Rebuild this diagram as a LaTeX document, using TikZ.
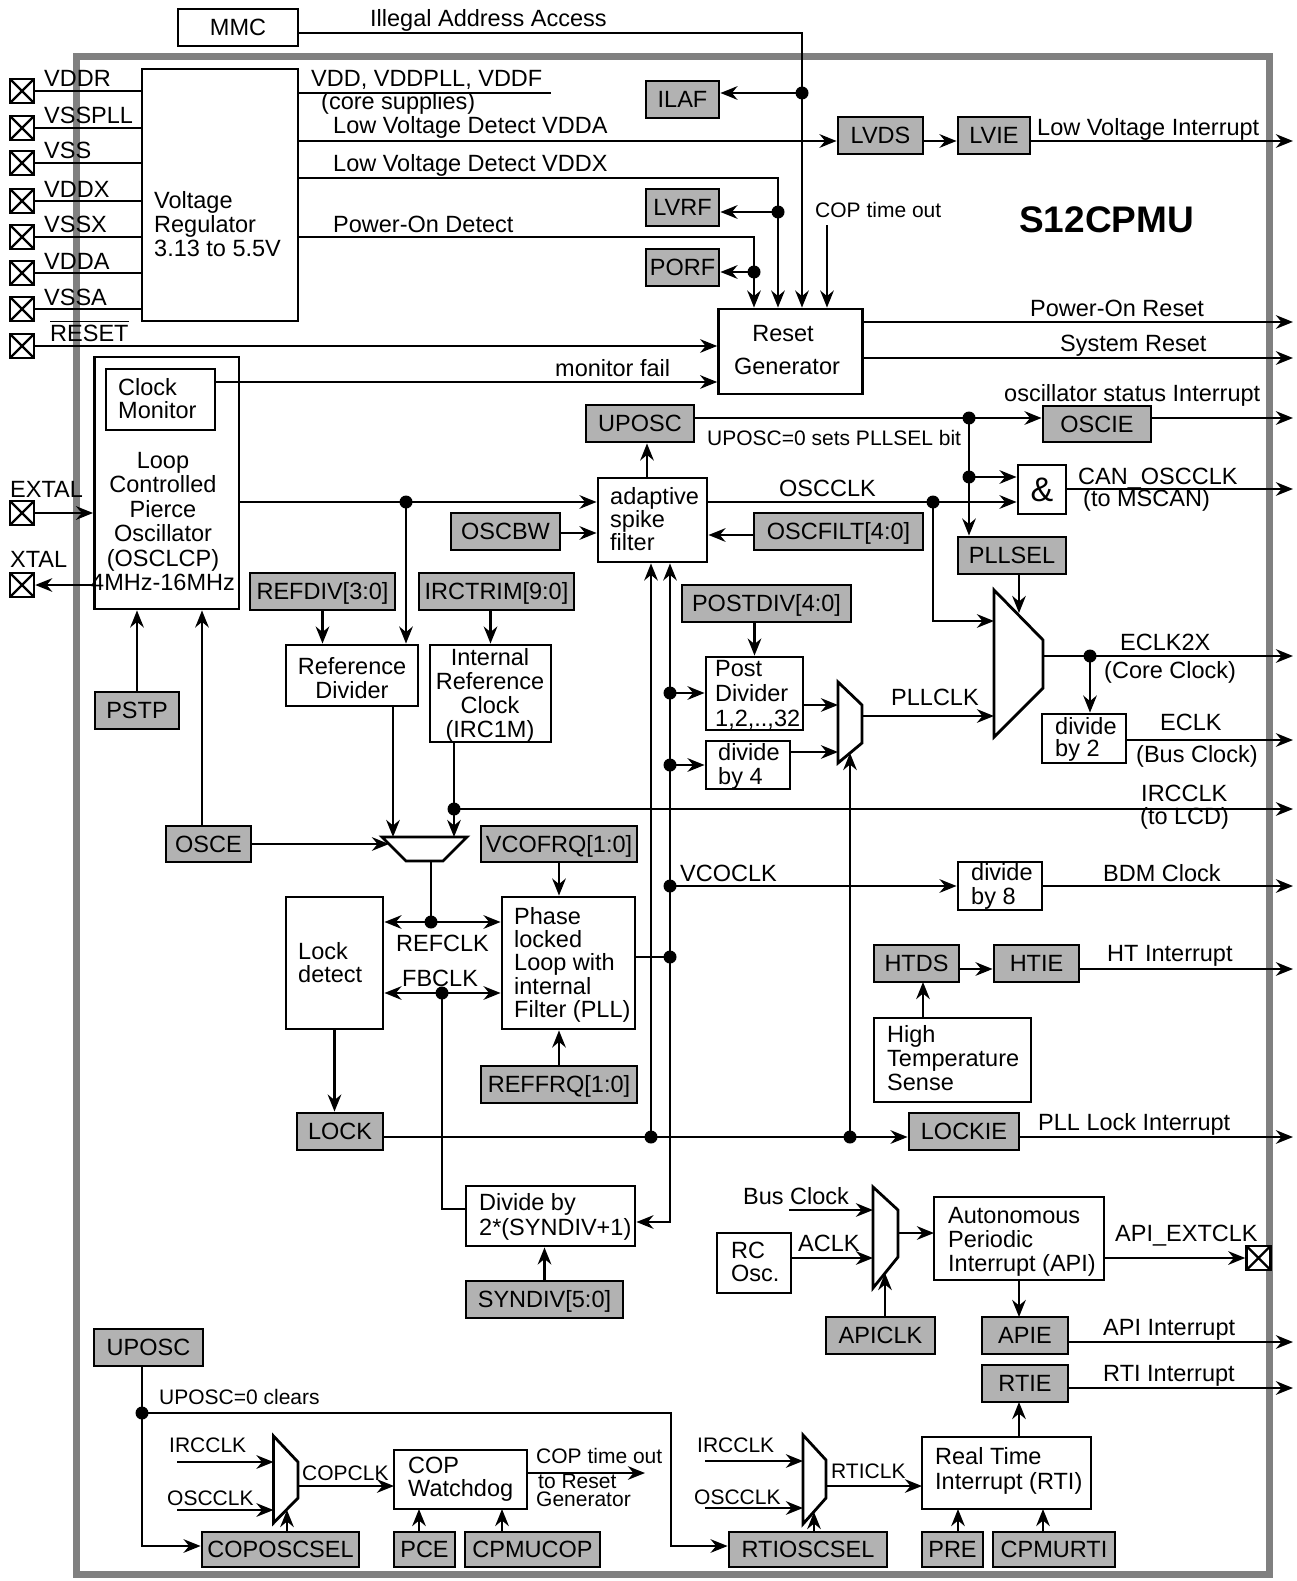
\documentclass[tikz,border=0pt]{standalone}
\usepackage{fontspec}
\setmainfont{Liberation Sans}
\usetikzlibrary{arrows.meta,fit}
\definecolor{gbg}{RGB}{178,178,178}
\definecolor{frm}{RGB}{128,128,128}
\newcommand\nf{\fontsize{23.5}{24}\selectfont}
\newcommand\smf{\fontsize{21}{20}\selectfont}
\newcommand\gbx[6]{\node[gbox,fit={(#2,#3) (#4,#5)}] (#1) {};
  \node[inner sep=0pt,anchor=base,font=\nf] at ([yshift=-8.3pt]#1.center) {#6};}
\begin{document}
\begin{tikzpicture}[x=1pt,y=-1pt,
  >={Stealth[length=17pt,width=13.5pt,inset=5.5pt]},
  ln/.style={line width=2.8pt},
  arr/.style={ln,->},
  darr/.style={ln,<->},
  wbox/.style={draw,line width=2.8pt,fill=white,inner sep=0pt},
  gbox/.style={draw,line width=2.8pt,fill=gbg,inner sep=0pt},
  lab/.style={inner sep=0pt,anchor=base west,font=\nf},
  slab/.style={inner sep=0pt,anchor=base west,font=\smf},
  mtl/.style={inner sep=0pt,anchor=north west,align=left,font=\nf},
  mtc/.style={inner sep=0pt,anchor=north,align=center,font=\nf},
  pin/.style={draw,line width=2.4pt,fill=white,minimum size=24pt,inner sep=0pt,
    path picture={\draw[line width=2.4pt] (path picture bounding box.north west) -- (path picture bounding box.south east)
      (path picture bounding box.north east) -- (path picture bounding box.south west);}}]
\useasboundingbox (0,0) rectangle (1297,1581);
\fill[white] (0,0) rectangle (1297,1581);
% frame
\draw[frm,line width=7pt] (76.5,57) rectangle (1269.5,1574);
\coordinate (R) at (1293,0);

% ---------- white boxes ----------
\node[wbox,fit={(178,9) (298,46)}] (MMC) {};
\node[inner sep=0pt,anchor=base,font=\nf] at ([yshift=-8.3pt]MMC.center) {MMC};
\node[wbox,fit={(142,69) (298,321)}] (REG) {};
\node[wbox,fit={(718.6,309) (862.6,394)}] (RG) {};
\node[wbox,fit={(94.5,357) (239,609)}] (OSC) {};
\node[wbox,fit={(106,369) (215,430)}] (CM) {};
\node[wbox,fit={(598,478) (707,562)}] (ASF) {};
\node[wbox,fit={(1018,465) (1066,514)}] (AND) {};
\node[inner sep=0pt,anchor=base,font=\fontsize{34}{34}\selectfont] at ([yshift=-12pt]AND.center) {\&};
\node[wbox,fit={(286,645) (418,706)}] (RD) {};
\node[wbox,fit={(430,645) (551,742)}] (IRC) {};
\node[wbox,fit={(706,657) (803,730)}] (PD) {};
\node[wbox,fit={(706,741) (790,789)}] (D4) {};
\node[wbox,fit={(1042,714) (1126,763)}] (D2) {};
\node[wbox,fit={(958,862) (1042,910)}] (D8) {};
\node[wbox,fit={(286,897) (383,1029)}] (LD) {};
\node[wbox,fit={(502,897) (635,1029)}] (PLL) {};
\node[wbox,fit={(874,1018) (1031,1102)}] (HTS) {};
\node[wbox,fit={(466,1186) (635,1246)}] (DIV) {};
\node[wbox,fit={(717,1233) (791,1293)}] (RC) {};
\node[wbox,fit={(934,1197) (1104,1280)}] (API) {};
\node[wbox,fit={(394,1450) (527,1509)}] (COP) {};
\node[wbox,fit={(922,1437) (1091,1509)}] (RTI) {};

% ---------- gray boxes ----------
\gbx{ILAF}{646}{81}{719}{118}{ILAF}
\gbx{LVDS}{838}{117}{923}{154}{LVDS}
\gbx{LVIE}{958}{117}{1030}{154}{LVIE}
\gbx{LVRF}{646}{189}{719}{226}{LVRF}
\gbx{PORF}{646}{249}{719}{286}{PORF}
\gbx{UPOSCa}{586}{405}{694}{442}{UPOSC}
\gbx{OSCIE}{1043}{406}{1151}{442}{OSCIE}
\gbx{OSCBW}{451}{513}{560}{550}{OSCBW}
\gbx{OSCFILT}{754}{513}{923}{550}{OSCFILT[4:0]}
\gbx{PLLSEL}{958}{537}{1066}{574}{PLLSEL}
\gbx{REFDIV}{250}{573}{395}{610}{REFDIV[3:0]}
\gbx{IRCTRIM}{419}{573}{574}{610}{IRCTRIM[9:0]}
\gbx{POSTDIV}{682}{585}{851}{622}{POSTDIV[4:0]}
\gbx{PSTP}{95}{692}{179}{729}{PSTP}
\gbx{OSCE}{166}{826}{251}{862}{OSCE}
\gbx{VCOFRQ}{481}{826}{637}{862}{VCOFRQ[1:0]}
\gbx{HTDS}{874}{945}{959}{982}{HTDS}
\gbx{HTIE}{994}{945}{1079}{982}{HTIE}
\gbx{REFFRQ}{481}{1066}{637}{1103}{REFFRQ[1:0]}
\gbx{LOCK}{297}{1113}{383}{1150}{LOCK}
\gbx{LOCKIE}{909}{1113}{1019}{1150}{LOCKIE}
\gbx{SYNDIV}{466}{1281}{623}{1318}{SYNDIV[5:0]}
\gbx{APICLK}{826}{1317}{935}{1354}{APICLK}
\gbx{APIE}{982}{1317}{1068}{1354}{APIE}
\gbx{UPOSCb}{94}{1329}{203}{1366}{UPOSC}
\gbx{RTIE}{982}{1365}{1068}{1402}{RTIE}
\gbx{COPOSCSEL}{202}{1532}{359}{1567}{COPOSCSEL}
\gbx{PCE}{394}{1532}{455}{1567}{PCE}
\gbx{CPMUCOP}{465}{1532}{600}{1567}{CPMUCOP}
\gbx{RTIOSCSEL}{729}{1532}{887}{1567}{RTIOSCSEL}
\gbx{PRE}{922}{1532}{983}{1567}{PRE}
\gbx{CPMURTI}{993}{1532}{1115}{1567}{CPMURTI}

% ---------- multiplexers ----------
\draw[ln,fill=white] (994,590) -- (1043,640) -- (1043,688) -- (994,737) -- cycle;
\draw[ln,fill=white] (838,682) -- (862,705) -- (862,743) -- (838,763) -- cycle;
\draw[ln,fill=white] (382,837) -- (467,837) -- (443,861) -- (406,861) -- cycle;
\draw[ln,fill=white] (873,1187) -- (898,1210) -- (898,1257) -- (873,1288) -- cycle;
\draw[ln,fill=white] (273.5,1436) -- (298,1462) -- (298,1498) -- (273.5,1523) -- cycle;
\draw[ln,fill=white] (803,1435) -- (826,1460) -- (826,1498) -- (803,1524) -- cycle;

% ---------- pins ----------
\foreach \nm/\yy in {VDDR/91,VSSPLL/128,VSS/163,VDDX/201,VSSX/237,VDDA/273,VSSA/309}{
  \node[pin] (p\nm) at (22,\yy) {};
  \draw[ln] (p\nm.east) -- (p\nm.east -| REG.west);
  \node[lab] at (44,\yy-4) {\nm};
}
\node[pin] (pRESET) at (22,346) {};
\draw[arr] (pRESET.east) -- (pRESET.east -| RG.west);
\node[lab] (rstlab) at (50,341) {RESET};
\draw[line width=1.3pt] ([yshift=3pt]rstlab.north west) -- ([yshift=3pt]rstlab.north east);
\node[pin] (pEXTAL) at (22,513) {};
\node[pin] (pXTAL) at (22,585) {};
\node[lab] at (10,497) {EXTAL};
\node[lab] at (10,567) {XTAL};
\draw[arr] (pEXTAL.east) -- (pEXTAL.east -| OSC.west);
\draw[arr] (pXTAL.east -| OSC.west) -- (pXTAL.east);
\node[pin] (pAPI) at (1258.5,1258) {};

% ---------- texts in boxes ----------
\node[mtl] at (154,191) {Voltage\\Regulator\\3.13 to 5.5V};
\node[inner sep=0pt,anchor=base,font=\nf] at (783,341) {Reset};
\node[inner sep=0pt,anchor=base,font=\nf] at (787,374) {Generator};
\node[mtl,font=\fontsize{23.5}{23.5}\selectfont] at (118,378) {Clock\\Monitor};
\node[mtc,font=\fontsize{23.5}{24.5}\selectfont] at (163,452) {Loop\\Controlled\\Pierce\\Oscillator\\(OSCLCP)\\4MHz-16MHz};
\node[mtl,font=\fontsize{23.5}{23}\selectfont] at (610,487) {adaptive\\spike\\filter};
\node[mtc] at (352,657) {Reference\\Divider};
\node[mtc] at (490,648) {Internal\\Reference\\Clock\\(IRC1M)};
\node[mtl,font=\fontsize{23.5}{25}\selectfont] at (715,660) {Post\\Divider\\1,2,..,32};
\node[mtl] at (718,743) {divide\\by 4};
\node[mtl,font=\fontsize{23.5}{22}\selectfont] at (1055,717) {divide\\by 2};
\node[mtl] at (971,863) {divide\\by 8};
\node[mtl,font=\fontsize{23.5}{23}\selectfont] at (298,942) {Lock\\detect};
\node[mtl,font=\fontsize{23.5}{23.3}\selectfont] at (514,907) {Phase\\locked\\Loop with\\internal\\Filter (PLL)};
\node[mtl] at (887,1025) {High\\Temperature\\Sense};
\node[mtl,font=\fontsize{23.5}{25}\selectfont] at (479,1193) {Divide by\\2*(SYNDIV+1)};
\node[mtl,font=\fontsize{23.5}{23}\selectfont] at (731,1242) {RC\\Osc.};
\node[mtl] at (948,1207) {Autonomous\\Periodic\\Interrupt (API)};
\node[mtl,font=\fontsize{23.5}{23}\selectfont] at (408,1457) {COP\\Watchdog};
\node[mtl,font=\fontsize{23.5}{25}\selectfont] at (935,1447) {Real Time\\Interrupt (RTI)};

% ---------- title ----------
\node[inner sep=0pt,anchor=base west,font=\fontsize{37}{37}\selectfont\bfseries] at (1019,232) {S12CPMU};

% ---------- top connections ----------
\coordinate (cIA) at (802,33);
\draw[arr] (MMC.east |- cIA) -- (cIA) -- (cIA |- RG.north);
\node[lab] at (370,27) {Illegal Address Access};
\coordinate (dIL) at (802,93);
\fill (dIL) circle (6.5);
\draw[arr] (dIL) -- (dIL -| ILAF.east);

\coordinate (cVD) at (551,93);
\draw[ln] (REG.east |- cVD) -- (cVD);
\node[lab] at (311,87) {VDD, VDDPLL, VDDF};
\node[lab] at (321,110) {(core supplies)};

\coordinate (cLA) at (298,141);
\draw[arr] (cLA) -- (cLA -| LVDS.west);
\node[lab] at (333,134) {Low Voltage Detect VDDA};
\draw[arr] (LVDS.east |- cLA) -- (cLA -| LVIE.west);
\draw[arr] (LVIE.east |- cLA) -- (cLA -| R);
\node[lab] at (1037,136) {Low Voltage Interrupt};

\coordinate (cLX) at (778,178);
\draw[arr] (REG.east |- cLX) -- (cLX) -- (cLX |- RG.north);
\node[lab] at (333,172) {Low Voltage Detect VDDX};
\coordinate (dLX) at (778,212);
\fill (dLX) circle (6.5);
\draw[arr] (dLX) -- (dLX -| LVRF.east);

\coordinate (cPO) at (754,237);
\draw[arr] (REG.east |- cPO) -- (cPO) -- (cPO |- RG.north);
\node[lab] at (333,232) {Power-On Detect};
\coordinate (dPO) at (754,272);
\fill (dPO) circle (6.5);
\draw[arr] (dPO) -- (dPO -| PORF.east);

\coordinate (cCT) at (827,225);
\draw[arr] (cCT) -- (cCT |- RG.north);
\node[slab] at (815,217) {COP time out};

\coordinate (cMF) at (215,382);
\draw[arr] (cMF) -- (cMF -| RG.west);
\node[lab] at (555,376) {monitor fail};

\coordinate (cPR) at (862.6,322);
\draw[arr] (cPR) -- (cPR -| R);
\node[lab] at (1030,316) {Power-On Reset};
\coordinate (cSR) at (862.6,358);
\draw[arr] (cSR) -- (cSR -| R);
\node[lab] at (1060,351) {System Reset};

% ---------- oscillator region ----------
\coordinate (cOO) at (239,502);
\draw[arr] (cOO) -- (cOO -| ASF.west);
\coordinate (dRD) at (406,502);
\fill (dRD) circle (6.5);
\draw[arr] (dRD) -- (dRD |- RD.north);
\coordinate (cBW) at (560,533);
\draw[arr] (cBW) -- (cBW -| ASF.west);
\coordinate (cFI) at (754,535);
\draw[arr] (cFI) -- (cFI -| ASF.east);
\coordinate (cAU) at (647,478);
\draw[arr] (cAU) -- (cAU |- UPOSCa.south);

\coordinate (cUL) at (694,418);
\draw[arr] (cUL) -- (cUL -| OSCIE.west);
\node[slab] at (707,445) {UPOSC=0 sets PLLSEL bit};
\draw[arr] (OSCIE.east |- cUL) -- (cUL -| R);
\node[lab] at (1004,401) {oscillator status Interrupt};
\coordinate (dU1) at (969,418);
\fill (dU1) circle (6.5);
\draw[arr] (dU1) -- (dU1 |- PLLSEL.north);
\coordinate (dU2) at (969,477);
\fill (dU2) circle (6.5);
\draw[arr] (dU2) -- (dU2 -| AND.west);

\coordinate (cOC) at (707,502);
\draw[arr] (cOC) -- (cOC -| AND.west);
\node[lab] at (779,496) {OSCCLK};
\coordinate (dOC) at (933,502);
\fill (dOC) circle (6.5);
\coordinate (mBL) at (994,621);
\draw[arr] (dOC) -- (dOC |- mBL) -- (mBL);
\coordinate (cAO) at (1066,489);
\draw[arr] (cAO) -- (cAO -| R);
\node[lab] at (1078,484) {CAN\_OSCCLK};
\node[lab] at (1083,506) {(to MSCAN)};
\coordinate (cPS) at (1019,574);
\draw[arr] (cPS) -- (1019,613);

\coordinate (cMO) at (1043,656);
\draw[arr] (cMO) -- (cMO -| R);
\node[lab] at (1120,650) {ECLK2X};
\node[lab] at (1104,678) {(Core Clock)};
\coordinate (dEC) at (1090,656);
\fill (dEC) circle (6.5);
\draw[arr] (dEC) -- (dEC |- D2.north);
\coordinate (cEK) at (1126,740);
\draw[arr] (cEK) -- (cEK -| R);
\node[lab] at (1160,730) {ECLK};
\node[lab] at (1136,762) {(Bus Clock)};

\draw[arr] (POSTDIV.south -| PD.north) -- (PD.north);

% VCO bus lines
\coordinate (dL1) at (651,1137);
\draw[arr] (dL1) -- (dL1 |- ASF.south);
\coordinate (cV) at (670,1222);
\draw[darr] (cV |- ASF.south) -- (cV) -- (cV -| DIV.east);
\coordinate (dP1) at (670,693);
\coordinate (dP2) at (670,765);
\coordinate (dVC) at (670,886);
\coordinate (dPL) at (670,957);
\foreach \c in {dP1,dP2,dVC,dPL} \fill (\c) circle (6.5);
\draw[arr] (dP1) -- (dP1 -| PD.west);
\draw[arr] (dP2) -- (dP2 -| D4.west);
\draw[arr] (803,705) -- (838,705);
\draw[arr] (790,752) -- (838,752);
\coordinate (cSM) at (862,716);
\draw[arr] (cSM) -- (cSM -| mBL);
\node[lab] at (891,705) {PLLCLK};
\coordinate (dL2) at (850,1137);
\draw[arr] (dL2) -- (850,753);

\draw[arr] (dVC) -- (dVC -| D8.west);
\node[lab] at (680,881) {VCOCLK};
\draw[arr] (D8.east |- dVC) -- (dVC -| R);
\node[lab] at (1103,881) {BDM Clock};

% reference selection
\coordinate (cIR) at (454,742);
\draw[arr] (cIR) -- (454,837);
\coordinate (dIR) at (454,809);
\fill (dIR) circle (6.5);
\draw[arr] (dIR) -- (dIR -| R);
\node[lab] at (1141,801) {IRCCLK};
\node[lab] at (1140,824) {(to LCD)};
\draw[arr] (RD.south -| 393,0) -- (393,837);
\draw[arr] (REFDIV.south) -- (REFDIV.south |- RD.north);
\draw[arr] (IRCTRIM.south -| IRC.north) -- (IRC.north);
\draw[arr] (PSTP.north) -- (PSTP.north |- OSC.south);
\coordinate (cOE) at (202,826);
\draw[arr] (cOE) -- (cOE |- OSC.south);
\draw[arr] (OSCE.east) -- (389,844);

\coordinate (cRC) at (431,922);
\draw[ln] (431,861) -- (cRC);
\draw[darr] (cRC -| LD.east) -- (cRC -| PLL.west);
\fill (cRC) circle (6.5);
\node[lab] at (396,951) {REFCLK};
\coordinate (cFB) at (442,993);
\draw[darr] (cFB -| LD.east) -- (cFB -| PLL.west);
\fill (cFB) circle (6.5);
\node[lab] at (402,986) {FBCLK};
\coordinate (cFB2) at (442,1209);
\draw[ln] (cFB) -- (cFB2) -- (cFB2 -| DIV.west);

\draw[arr] (VCOFRQ.south) -- (VCOFRQ.south |- PLL.north);
\draw[arr] (REFFRQ.north) -- (REFFRQ.north |- PLL.south);
\draw[ln] (PLL.east |- dPL) -- (dPL);
\draw[arr] (LD.south) -- (LD.south |- LOCK.north);

\draw[arr] (LOCK.east |- dL1) -- (dL1 -| LOCKIE.west);
\fill (dL1) circle (6.5);
\fill (dL2) circle (6.5);
\draw[arr] (LOCKIE.east |- dL1) -- (dL1 -| R);
\node[lab] at (1038,1130) {PLL Lock Interrupt};

\coordinate (cHT) at (959,969);
\draw[arr] (cHT) -- (cHT -| HTIE.west);
\draw[arr] (HTIE.east |- cHT) -- (cHT -| R);
\node[lab] at (1107,961) {HT Interrupt};
\draw[arr] (HTS.north -| 923,0) -- (923,982);

\draw[arr] (SYNDIV.north) -- (SYNDIV.north |- DIV.south);

% ---------- API ----------
\draw[arr] (789,1210) -- (873,1210);
\node[lab] at (743,1204) {Bus Clock};
\draw[arr] (791,1258) -- (873,1258);
\node[lab] at (798,1251) {ACLK};
\draw[arr] (885,1317) -- (885,1273);
\draw[arr] (898,1233) -- (934,1233);
\draw[arr] (API.east |- pAPI.west) -- (pAPI.west);
\node[lab] at (1115,1241) {API\_EXTCLK};
\draw[arr] (1019,1280) -- (1019,1317);
\coordinate (cAI) at (1068,1342);
\draw[arr] (cAI) -- (cAI -| R);
\node[lab] at (1103,1335) {API Interrupt};
\coordinate (cRI) at (1068,1388);
\draw[arr] (cRI) -- (cRI -| R);
\node[lab] at (1103,1381) {RTI Interrupt};

% ---------- RTI ----------
\draw[arr] (1019,1437) -- (1019,1402);
\draw[arr] (705,1461) -- (803,1461);
\node[slab] at (697,1452) {IRCCLK};
\draw[arr] (705,1508) -- (803,1508);
\node[slab] at (694,1504) {OSCCLK};
\draw[arr] (826,1486) -- (922,1486);
\node[slab] at (831,1478) {RTICLK};
\draw[arr] (814,1532) -- (814,1512);
\draw[arr] (958,1532) -- (958,1509);
\draw[arr] (1043,1532) -- (1043,1509);

% ---------- COP ----------
\coordinate (cU1) at (142,1366);
\coordinate (cU2) at (142,1546);
\coordinate (dU3) at (142,1413);
\draw[arr] (cU1) -- (cU2) -- (cU2 -| COPOSCSEL.west);
\fill (dU3) circle (6.5);
\coordinate (cU4) at (671,1413);
\coordinate (cU5) at (671,1546);
\draw[arr] (dU3) -- (cU4) -- (cU5) -- (cU5 -| RTIOSCSEL.west);
\node[slab] at (159,1404) {UPOSC=0 clears};

\draw[arr] (177,1462) -- (273.5,1462);
\node[slab] at (169,1452) {IRCCLK};
\draw[arr] (177,1510) -- (273.5,1510);
\node[slab] at (167,1505) {OSCCLK};
\draw[arr] (298,1486) -- (394,1486);
\node[slab] at (302,1480) {COPCLK};
\draw[arr] (287,1532) -- (287,1510);
\draw[arr] (527,1473) -- (645,1473);
\node[slab] at (536,1463) {COP time out};
\node[slab] at (538,1488) {to Reset};
\node[slab] at (536,1506) {Generator};
\draw[arr] (419,1532) -- (419,1509);
\draw[arr] (502,1532) -- (502,1509);
\end{tikzpicture}
\end{document}
